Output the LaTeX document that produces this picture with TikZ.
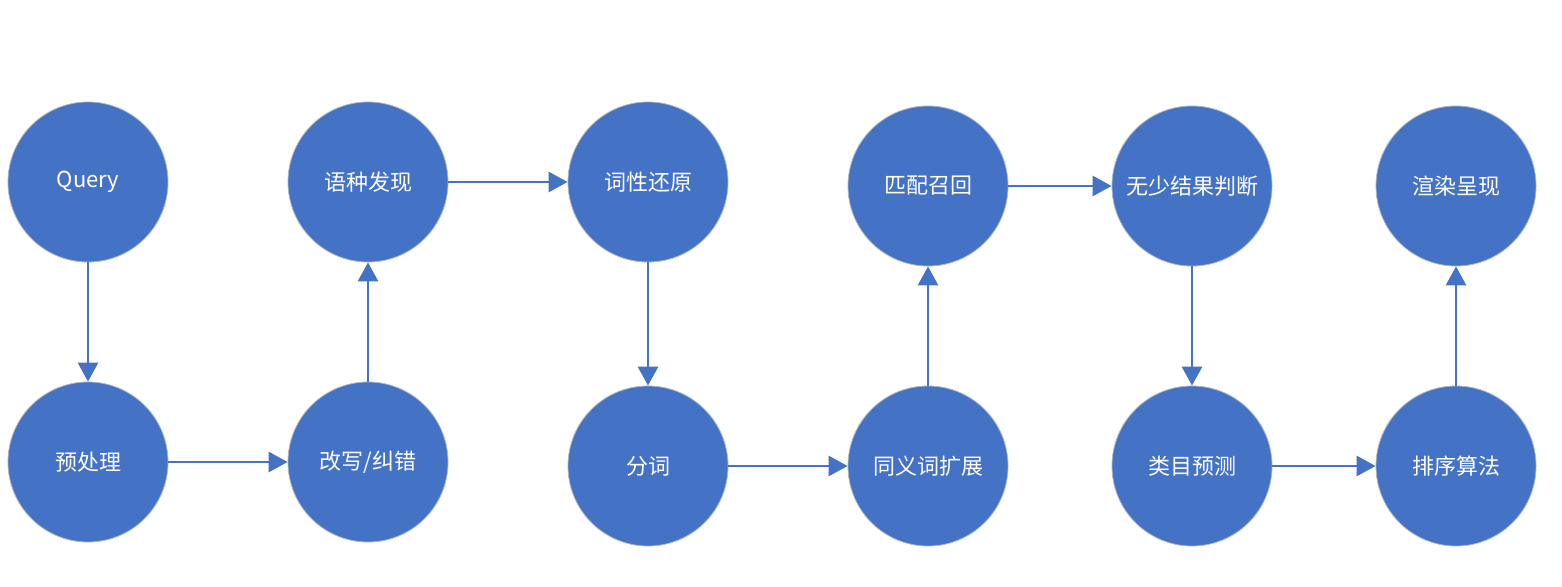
\documentclass[tikz,border=0pt]{standalone}
\usepackage{fontspec}
\setmainfont{Noto Sans CJK SC}
\usetikzlibrary{arrows.meta}
\definecolor{cfill}{HTML}{4472C4}
\definecolor{cedge}{HTML}{A9B4C8}
\begin{document}
\begin{tikzpicture}[x=1pt,y=-1pt,
  stage/.style={circle,fill=cfill,draw=cedge,line width=0.8pt,minimum size=160pt,inner sep=0pt,text=white,font=\fontsize{22}{26}\selectfont},
  flow/.style={draw=cfill,line width=2.8pt,-{Triangle[width=20pt,length=19pt]}}]
\useasboundingbox[fill=white] (0,0) rectangle (1562,586);
\node[stage] (q) at (88,182) {Query};
\node[stage] (a) at (88,462) {预处理};
\node[stage] (b) at (368,462) {改写/纠错};
\node[stage] (c) at (368,182) {语种发现};
\node[stage] (d) at (648,182) {词性还原};
\node[stage] (e) at (648,466) {分词};
\node[stage] (f) at (928,466) {同义词扩展};
\node[stage] (g) at (928,186) {匹配召回};
\node[stage] (h) at (1192,186) {无少结果判断};
\node[stage] (i) at (1192,466) {类目预测};
\node[stage] (j) at (1456,466) {排序算法};
\node[stage] (k) at (1456,186) {渲染呈现};
\draw[flow] (q) -- (a);
\draw[flow] (a) -- (b);
\draw[flow] (b) -- (c);
\draw[flow] (c) -- (d);
\draw[flow] (d) -- (e);
\draw[flow] (e) -- (f);
\draw[flow] (f) -- (g);
\draw[flow] (g) -- (h);
\draw[flow] (h) -- (i);
\draw[flow] (i) -- (j);
\draw[flow] (j) -- (k);
\end{tikzpicture}
\end{document}
